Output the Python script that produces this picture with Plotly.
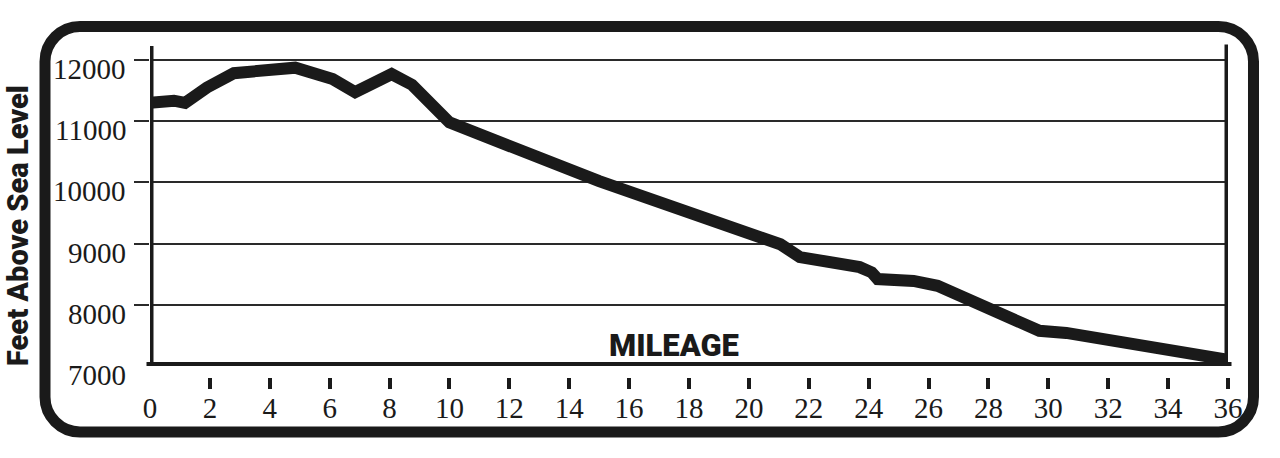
import plotly.graph_objects as go

# ---- data ----
miles = [0, 0.8, 1.17, 1.9, 2.8, 4.85, 6.1, 6.85, 8.07, 8.75, 10.0, 15.0,
         21.05, 21.7, 23.7, 24.1, 24.3, 25.5, 26.3, 27.5, 29.7, 30.6, 36]
elevation = [11300, 11335, 11300, 11550, 11785, 11875, 11690, 11475, 11770, 11595,
             10980, 10020, 8990, 8780, 8615, 8530, 8420, 8390, 8310, 8060, 7575, 7540, 7100]
x_ticks = list(range(0, 37, 2))
x_marks = list(range(2, 37, 2))
y_labels = [7000, 8000, 9000, 10000, 11000, 12000]
y_grid = [8000, 9000, 10000, 11000, 12000]
y_title = "Feet Above Sea Level"
x_title = "MILEAGE"

INK = "#1a1a1a"
SERIF = "Liberation Serif, Times New Roman, serif"
COND = "Roboto, Liberation Sans, Arial, sans-serif"

W, H = 1280, 458
ML, MR, MT, MB = 150, 52, 46, 81
PW, PH = W - ML - MR, H - MT - MB
PLOT_BOTTOM = 366
d = (H - MB - PLOT_BOTTOM) / PH
ytop = 7000 + (PLOT_BOTTOM - MT) * 5000 / 306.0


def px(x):
    return (x - ML) / PW


def py(y):
    return (H - MB - y) / PH


fig = go.Figure()
fig.add_trace(go.Scatter(x=miles, y=elevation, mode="lines",
                         line=dict(color=INK, width=12), hoverinfo="skip",
                         showlegend=False))
fig.add_trace(go.Scatter(x=miles, y=elevation, mode="lines", xaxis="x2",
                         line=dict(color="rgba(0,0,0,0)", width=0), hoverinfo="skip",
                         showlegend=False))

# rounded outer border
L, R, T, B, r = 45, 1253.5, 26.5, 432, 35
k = 0.5523 * r


def P(x, y):
    return f"{px(x):.5f},{py(y):.5f}"


path = (f"M {P(L+r,T)} L {P(R-r,T)} C {P(R-r+k,T)} {P(R,T+r-k)} {P(R,T+r)} "
        f"L {P(R,B-r)} C {P(R,B-r+k)} {P(R-r+k,B)} {P(R-r,B)} "
        f"L {P(L+r,B)} C {P(L+r-k,B)} {P(L,B-r+k)} {P(L,B-r)} "
        f"L {P(L,T+r)} C {P(L,T+r-k)} {P(L+r-k,T)} {P(L+r,T)} Z")

shapes = [
    dict(type="path", xref="paper", yref="paper", path=path,
         line=dict(color=INK, width=11), layer="above"),
    dict(type="line", xref="x", yref="y domain", x0=0, x1=0, y0=0, y1=1,
         line=dict(color=INK, width=7), layer="above"),
    dict(type="line", xref="x", yref="y domain", x0=36, x1=36, y0=0, y1=1.005,
         line=dict(color=INK, width=7), layer="above"),
    dict(type="line", xref="x domain", yref="y", x0=-3.5 / PW, x1=1 + 3.5 / PW,
         y0=7000, y1=7000, line=dict(color=INK, width=8), layer="above"),
]

annotations = []
for v in y_labels:
    annotations.append(dict(xref="paper", x=0, xanchor="right", xshift=-22,
                            yref="y", y=v, yanchor="middle", yshift=-9, text=str(v),
                            showarrow=False,
                            font=dict(family=SERIF, size=29, color=INK)))
annotations.append(dict(xref="paper", yref="paper", x=px(18), y=py(226),
                        xanchor="center", yanchor="middle",
                        text=y_title, textangle=-90, showarrow=False,
                        font=dict(family=COND, size=29, color=INK, weight=900)))
annotations.append(dict(xref="paper", yref="paper", x=px(674), y=py(345),
                        xanchor="center", yanchor="middle",
                        text=x_title, showarrow=False,
                        font=dict(family=COND, size=31, color=INK, weight=900)))

fig.update_layout(
    width=W, height=H,
    margin=dict(l=ML, r=MR, t=MT, b=MB, pad=0),
    paper_bgcolor="white", plot_bgcolor="white",
    showlegend=False,
    xaxis=dict(range=[0, 36], tickvals=x_ticks, ticktext=[str(t) for t in x_ticks],
               ticks="", showgrid=False, zeroline=False, showline=False,
               ticklabelstandoff=22,
               tickfont=dict(family=SERIF, size=29, color=INK)),
    xaxis2=dict(range=[0, 36], overlaying="x", anchor="free", position=0,
                side="bottom", tickvals=x_marks, ticks="outside", ticklen=11,
                tickwidth=3.5, tickcolor=INK, showticklabels=False,
                showgrid=False, zeroline=False, showline=False),
    yaxis=dict(range=[7000, ytop], domain=[d, 1], tickvals=y_grid,
               showticklabels=False, ticks="outside", ticklen=15, tickwidth=2,
               tickcolor="#2a2a2a", showgrid=True, gridcolor="#2a2a2a",
               gridwidth=2, zeroline=False, showline=False),
    shapes=shapes,
    annotations=annotations,
)

fig.write_html("out.html", config={"displayModeBar": False},
               post_script="document.body.style.margin='0';document.body.style.padding='0';")
